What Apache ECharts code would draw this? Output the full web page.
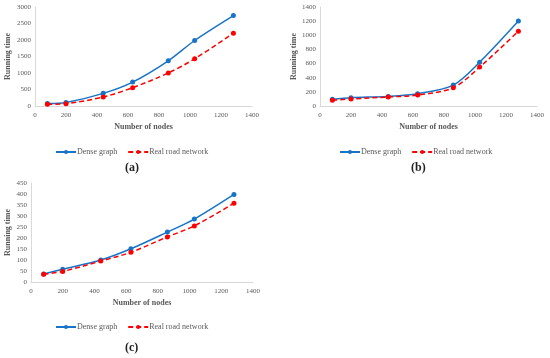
<!DOCTYPE html>
<html>
<head>
<meta charset="utf-8">
<script src="https://cdn.jsdelivr.net/npm/echarts@6/dist/echarts.min.js"></script>
<style>html,body{margin:0;padding:0;background:#fff}#c{width:550px;height:358px}</style>
</head>
<body>
<div id="c"></div>
<script>
var nodes = [80, 200, 440, 630, 860, 1030, 1280];
var denseA = [75, 105, 383, 725, 1370, 1985, 2740];
var roadA = [50, 70, 272, 555, 1000, 1430, 2205];
var denseB = [94, 117, 136, 174, 296, 620, 1202];
var roadB = [80, 99, 127, 155, 258, 550, 1057];
var denseC = [36, 58, 100, 151, 227, 286, 398];
var roadC = [35, 48, 95, 135, 205, 255, 358];
var xTicks = [0, 200, 400, 600, 800, 1000, 1200, 1400];
var yMaxA = 3000, yMaxB = 1400, yMaxC = 450;
var panelLabels = ['(a)', '(b)', '(c)'];
var seriesNames = ['Dense graph', 'Real road network'];

function pairs(ys){ return nodes.map(function(x,i){ return [x, ys[i]]; }); }
function plain(v){ return String(v); }

var FONT = '"Liberation Serif", "DejaVu Serif", serif';
var TXT = '#595959';
var BLUE = '#1874c8', RED = '#ff0000';

var grids = [
  {left: 35, top: 7, width: 217, height: 99},
  {left: 320, top: 7, width: 217, height: 99},
  {left: 31, top: 183, width: 222, height: 99}
];
var yCfg = [[yMaxA, 500], [yMaxB, 200], [yMaxC, 50]];

var xAxes = grids.map(function(g, i){
  return {
    type: 'value', gridIndex: i, min: xTicks[0], max: xTicks[xTicks.length-1], interval: 200,
    name: 'Number of nodes', nameLocation: 'middle', nameGap: 17,
    nameTextStyle: {fontFamily: FONT, fontSize: 8, fontWeight: 'bold', color: TXT},
    axisLine: {show: true, lineStyle: {color: '#d9d9d9'}},
    axisTick: {show: false}, splitLine: {show: false},
    axisLabel: {fontFamily: FONT, fontSize: 7, color: TXT, margin: 6, formatter: plain}
  };
});
var yAxes = grids.map(function(g, i){
  return {
    type: 'value', gridIndex: i, min: 0, max: yCfg[i][0], interval: yCfg[i][1],
    name: 'Running time', nameLocation: 'middle', nameGap: i === 0 ? 23 : (i === 1 ? 22 : 19),
    nameTextStyle: {fontFamily: FONT, fontSize: 8, fontWeight: 'bold', color: TXT},
    axisLine: {show: true, lineStyle: {color: '#d9d9d9'}},
    axisTick: {show: false}, splitLine: {show: false},
    axisLabel: {fontFamily: FONT, fontSize: 7, color: TXT, margin: 4, formatter: plain}
  };
});

var dataSets = [[denseA, roadA], [denseB, roadB], [denseC, roadC]];
var series = [];
dataSets.forEach(function(ds, i){
  series.push({
    name: seriesNames[0], type: 'line', xAxisIndex: i, yAxisIndex: i,
    data: pairs(ds[0]), smooth: 0.3, symbol: 'circle', symbolSize: 5,
    lineStyle: {color: BLUE, width: 1.5}, itemStyle: {color: BLUE}
  });
  series.push({
    name: seriesNames[1], type: 'line', xAxisIndex: i, yAxisIndex: i,
    data: pairs(ds[1]), smooth: 0.3, symbol: 'circle', symbolSize: 5,
    lineStyle: {color: RED, width: 1.5, type: [5, 3]}, itemStyle: {color: RED}
  });
});

var legendPos = [{left: 50, top: 143}, {left: 334, top: 143}, {left: 50, top: 318}];
var legends = legendPos.map(function(p){
  return {
    data: seriesNames, left: p.left, top: p.top, itemWidth: 20, itemHeight: 5, itemGap: 10,
    textStyle: {fontFamily: FONT, fontSize: 8, color: TXT, padding: [0,0,0,-4]}
  };
});

var labelPos = [[120, 157], [406, 157], [120, 337]];
var titles = panelLabels.map(function(t, i){
  return {text: t, left: labelPos[i][0], top: labelPos[i][1],
    textStyle: {fontFamily: FONT, fontSize: 12, fontWeight: 'bold', color: '#222'}};
});

var chart = echarts.init(document.getElementById('c'), null, {renderer: 'canvas'});
chart.setOption({
  animation: false,
  title: titles,
  grid: grids,
  xAxis: xAxes,
  yAxis: yAxes,
  legend: legends,
  series: series
});
</script>
</body>
</html>
